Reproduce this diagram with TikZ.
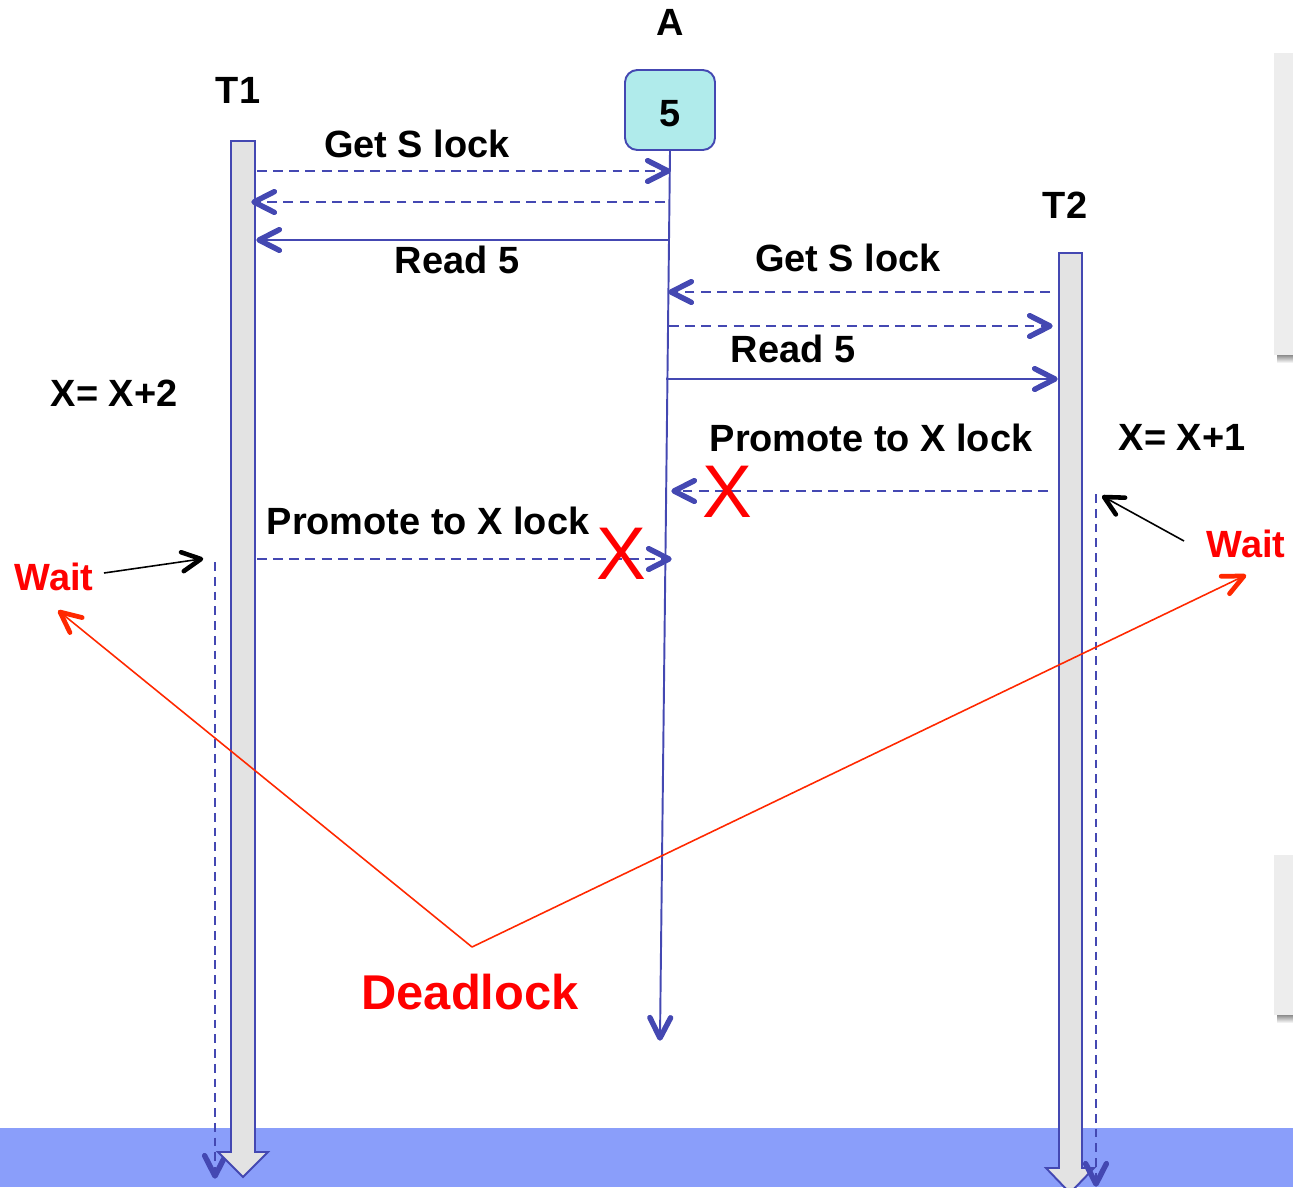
\documentclass[tikz,border=0pt]{standalone}
\usepackage{fontspec}
\setmainfont{Liberation Sans}
\usetikzlibrary{calc}

\definecolor{seqblue}{RGB}{68,72,178}
\definecolor{barfill}{RGB}{227,227,227}
\definecolor{bandblue}{RGB}{138,158,250}
\definecolor{cellfill}{RGB}{176,235,235}
\definecolor{warnred}{RGB}{255,0,0}
\definecolor{linkred}{RGB}{255,40,0}
\definecolor{panelgrey}{RGB}{237,237,237}

% heavy open arrowhead at #3 for a line coming from #2
% (#1: draw options, #4: barb length, #5: half opening angle)
\newcommand\msghead[5]{%
  \draw[#1,solid,line cap=round,line join=round]
    ($(#3)!#4!#5:(#2)$) -- (#3) -- ($(#3)!#4!-#5:(#2)$);}

\begin{document}
\begin{tikzpicture}[x=0.02cm,y=-0.02cm,
  lbl/.style={font=\fontsize{21.6}{25}\selectfont\bfseries,inner sep=0pt,anchor=base},
  redlbl/.style={lbl,text=warnred},
  cross/.style={font=\fontsize{42.5}{46}\selectfont,text=warnred,inner sep=0pt,anchor=base},
  msg/.style={draw=seqblue,line width=1.1pt},
  reply/.style={msg,dash pattern=on 5.6pt off 3.6pt},
  waitline/.style={draw=seqblue,line width=1.1pt,dash pattern=on 5pt off 3.4pt},
  bluehead/.style={draw=seqblue,line width=3.1pt},
  pointer/.style={draw=black,line width=0.9pt},
  blackhead/.style={draw=black,line width=2.6pt},
  redlink/.style={draw=linkred,line width=0.9pt},
  redhead/.style={draw=linkred,line width=2.7pt},
  tbar/.style={fill=barfill,draw=seqblue,line width=1.1pt,line join=miter},
  panel/.style={fill=panelgrey,draw=none},
]
\useasboundingbox (0,0) rectangle (1293,1187);

% bottom band
\fill[bandblue] (0,1128) rectangle (1293,1187);

% grey side panels with a soft shadow underneath
\shade[top color=black!45,bottom color=white] (1277,355) rectangle (1293,363);
\fill[panel] (1274,53) rectangle (1293,355);
\shade[top color=black!45,bottom color=white] (1277,1015) rectangle (1293,1023);
\fill[panel] (1274,855) rectangle (1293,1015);

% waiting periods (T1's runs behind its block arrow)
\coordinate (w1s) at (215,562);  \coordinate (w1e) at (215,1176);
\coordinate (w2s) at (1096,494); \coordinate (w2e) at (1096,1184);
\draw[waitline] (w1s) -- (w1e);
\msghead{bluehead}{w1s}{w1e}{13pt}{27}

% transaction lifelines drawn as block arrows
\draw[tbar] (231,141) -- (255,141) -- (255,1152) -- (268,1152) -- (243,1177)
  -- (218,1152) -- (231,1152) -- cycle;
\draw[tbar] (1059,253) -- (1082,253) -- (1082,1168) -- (1094,1168) -- (1070,1193)
  -- (1046,1168) -- (1059,1168) -- cycle;

\draw[waitline] (w2s) -- (w2e);
\msghead{bluehead}{w2s}{w2e}{13pt}{27}

% headers
\node[lbl] (t1) at (238,103.5) {T1};
\node[lbl] (t2) at (1065,218.5) {T2};
\node[lbl] (aname) at (670,35.5) {A};
\node[draw=seqblue,line width=1.1pt,fill=cellfill,rounded corners=7pt,
  minimum width=1.8cm,minimum height=1.6cm,inner sep=0pt] (cell) at (670,110) {};
\node[lbl] (cellval) at (670,126) {5};

% data item lifeline
\coordinate (aend) at (660,1038);
\draw[msg] (cell.south) -- (aend);
\msghead{bluehead}{cell.south}{aend}{13pt}{27}

% endpoints of the messages
\coordinate (m1s) at (257,171);  \coordinate (m1e) at (668,171);
\coordinate (m2s) at (665,202);  \coordinate (m2e) at (254,202);
\coordinate (m3s) at (668,240);  \coordinate (m3e) at (259,240);
\coordinate (m4s) at (1050,292); \coordinate (m4e) at (671,292);
\coordinate (m5s) at (669,326);  \coordinate (m5e) at (1050,326);
\coordinate (m6s) at (666,379);  \coordinate (m6e) at (1055,379);
\coordinate (m7s) at (1048,491); \coordinate (m7e) at (674,491);
\coordinate (m8s) at (257,559);  \coordinate (m8e) at (669,559);

\draw[reply] (m1s) -- (m1e);  \msghead{bluehead}{m1s}{m1e}{13pt}{27}
\draw[reply] (m2s) -- (m2e);  \msghead{bluehead}{m2s}{m2e}{13pt}{27}
\draw[msg]   (m3s) -- (m3e);  \msghead{bluehead}{m3s}{m3e}{13pt}{27}
\draw[reply] (m4s) -- (m4e);  \msghead{bluehead}{m4s}{m4e}{13pt}{27}
\draw[reply] (m5s) -- (m5e);  \msghead{bluehead}{m5s}{m5e}{13pt}{27}
\draw[msg]   (m6s) -- (m6e);  \msghead{bluehead}{m6s}{m6e}{13pt}{27}
\draw[reply] (m7s) -- (m7e);  \msghead{bluehead}{m7s}{m7e}{13pt}{27}
\draw[reply] (m8s) -- (m8e);  \msghead{bluehead}{m8s}{m8e}{13pt}{27}

% message labels
\node[lbl] (l1) at (417,157.5) {Get S lock};
\node[lbl] (l3) at (457,273.5) {Read 5};
\node[lbl] (l4) at (848,271.5) {Get S lock};
\node[lbl] (l6) at (793,362.5) {Read 5};
\node[lbl] (l7) at (871,451.5) {Promote to X lock};
\node[lbl] (l8) at (428,534.5) {Promote to X lock};
\node[lbl] (calc1) at (114,406.5) {X= X+2};
\node[lbl] (calc2) at (1182,450.5) {X= X+1};

% refused promotions
\node[cross] (x7) at (727,517.5) {X};
\node[cross] (x8) at (621,579.5) {X};

% wait markers
\node[redlbl] (wait1) at (54,590.5) {Wait};
\node[redlbl] (wait2) at (1246,557.5) {Wait};
\coordinate (p1s) at (104,573);  \coordinate (p1e) at (201,559);
\coordinate (p2s) at (1184,541); \coordinate (p2e) at (1104,497);
\draw[pointer] (p1s) -- (p1e);  \msghead{blackhead}{p1s}{p1e}{12pt}{27}
\draw[pointer] (p2s) -- (p2e);  \msghead{blackhead}{p2s}{p2e}{12pt}{27}

% deadlock
\node[font=\fontsize{27.8}{32}\selectfont\bfseries,text=warnred,inner sep=0pt,anchor=base]
  (dead) at (470,1009.5) {Deadlock};
\coordinate (apex) at (472,947);
\coordinate (r1) at (60,612);
\coordinate (r2) at (1244,576);
\draw[redlink] (apex) -- (r1);  \msghead{redhead}{apex}{r1}{13pt}{25}
\draw[redlink] (apex) -- (r2);  \msghead{redhead}{apex}{r2}{13pt}{25}
\end{tikzpicture}
\end{document}
